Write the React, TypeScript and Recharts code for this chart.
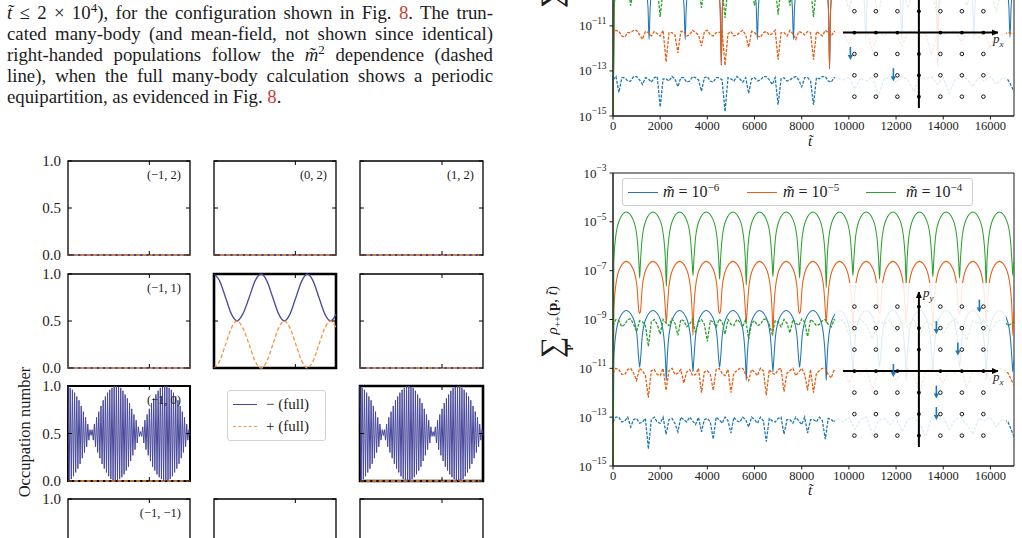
import React from 'react';
import { LineChart, Line, XAxis, YAxis, ReferenceArea, ReferenceLine, ScatterChart, Scatter } from 'recharts';

const SERIF = '"Liberation Serif", "DejaVu Serif", "Times New Roman", serif';
const INK = '#1b1b1b';
const MINUS_C = '#48489c';
const PLUS_C = '#f8953f';
const BLUE_R = '#1f77b4';
const ORANGE_R = '#e85d14';
const GREEN_R = '#2ca02c';
const RED_REF = '#cc3a33';

// ---------------- left grid (occupation numbers) ----------------
const gridXTicks = [74];
const gridYTicks = [0, 0.5, 1];
const gridYTickLabels = ['0.0', '0.5', '1.0'];
const panelLabels = ['(\u22121, 2)', '(0, 2)', '(1, 2)', '(\u22121, 1)', '', '', '(\u22121, 0)', '', '', '(\u22121, \u22121)', '', ''];
const panelKinds = ['empty', 'empty', 'empty', 'empty', 'cos', 'empty', 'beat', 'legend', 'beat', 'empty', 'empty', 'empty'];

const beatMinus = [
  1.00, 0.01, 0.98, 0.02, 0.96, 0.05, 0.93, 0.09, 0.89, 0.13,
  0.85, 0.18, 0.79, 0.24, 0.73, 0.30, 0.67, 0.36, 0.60, 0.43,
  0.54, 0.48, 0.54, 0.43, 0.60, 0.36, 0.67, 0.30, 0.73, 0.24,
  0.79, 0.18, 0.85, 0.13, 0.89, 0.09, 0.93, 0.05, 0.96, 0.02,
  0.98, 0.01, 1.00, 0.00, 1.00, 0.00, 0.99, 0.02, 0.98, 0.04,
  0.95, 0.07, 0.91, 0.11, 0.87, 0.15, 0.82, 0.21, 0.76, 0.27,
  0.70, 0.33, 0.64, 0.40, 0.57, 0.47, 0.52, 0.47, 0.57, 0.40,
  0.64, 0.33, 0.70, 0.27, 0.76, 0.21, 0.82, 0.15, 0.87, 0.11,
  0.91, 0.07, 0.95, 0.04, 0.98, 0.02, 0.99, 0.00, 1.00, 0.00,
  1.00, 0.01, 0.98, 0.02, 0.96, 0.05, 0.93, 0.09, 0.89, 0.13,
  0.85, 0.18, 0.79, 0.24, 0.73, 0.30, 0.67, 0.36, 0.60, 0.43,
  0.54, 0.48,
];
const cosT = [0, 5, 10.5, 16, 21, 26, 32, 37.5, 43, 48, 53.5, 59, 64, 69, 74.5, 80, 85, 90, 95.5, 101, 106, 111];
const cosMinus = [1.0, 0.93, 0.75, 0.57, 0.5, 0.57, 0.75, 0.93, 1.0, 0.93, 0.75, 0.57, 0.5, 0.57, 0.75, 0.93, 1.0, 0.93, 0.75, 0.57, 0.5, 0.57];
const cosPlus = [0, 0.07, 0.25, 0.43, 0.5, 0.43, 0.25, 0.07, 0, 0.07, 0.25, 0.43, 0.5, 0.43, 0.25, 0.07, 0, 0.07, 0.25, 0.43, 0.5, 0.43];
const flatT = [0, 111];
const flatZero = [0, 0];

const beatData = beatMinus.map((v, k) => ({ k, v }));
const cosMinusData = cosT.map((k, i) => ({ k, v: cosMinus[i] }));
const cosPlusData = cosT.map((k, i) => ({ k, v: cosPlus[i] }));
const flatZeroData = flatT.map((k, i) => ({ k, v: flatZero[i] }));

// ---------------- right plots ----------------
const xTicksR = [0, 2000, 4000, 6000, 8000, 10000, 12000, 14000, 16000];
const yTicksR = [1e-15, 1e-13, 1e-11, 1e-9, 1e-7, 1e-5, 1e-3];
const massExponents = ['6', '5', '4'];

// bottom plot: solid (full) curves, exponents log10
const archT = [
  0, 34, 113, 283, 565, 848, 1017, 1096,
  1130, 1164, 1243, 1413, 1695, 1978, 2147, 2226,
  2260, 2294, 2373, 2543, 2825, 3108, 3277, 3356,
  3390, 3424, 3503, 3673, 3955, 4238, 4407, 4486,
  4520, 4554, 4633, 4803, 5085, 5368, 5537, 5616,
  5650, 5684, 5763, 5933, 6215, 6498, 6667, 6746,
  6780, 6814, 6893, 7063, 7345, 7628, 7797, 7876,
  7910, 7944, 8023, 8193, 8475, 8758, 8927, 9006,
  9040, 9074, 9153, 9323, 9605, 9888, 10057, 10136,
  10170, 10204, 10283, 10453, 10735, 11018, 11187, 11266,
  11300, 11334, 11413, 11583, 11865, 12148, 12317, 12396,
  12430, 12464, 12543, 12713, 12995, 13278, 13447, 13526,
  13560, 13594, 13673, 13843, 14125, 14408, 14577, 14656,
  14690, 14724, 14803, 14973, 15255, 15538, 15707, 15786,
  15820, 15854, 15933, 16103, 16385, 16668, 16837, 16916,
  16950, 16984,
];
const archGreen = [
  -16, -6.65, -5.62, -4.9, -4.6, -4.9, -5.62, -6.65,
  -7.3, -6.65, -5.62, -4.9, -4.6, -4.9, -5.62, -6.65,
  -7.65, -6.65, -5.62, -4.9, -4.6, -4.9, -5.62, -6.65,
  -7.2, -6.65, -5.62, -4.9, -4.6, -4.9, -5.62, -6.65,
  -7.35, -6.65, -5.62, -4.9, -4.6, -4.9, -5.62, -6.65,
  -7.6, -6.65, -5.62, -4.9, -4.6, -4.9, -5.62, -6.65,
  -7.25, -6.65, -5.62, -4.9, -4.6, -4.9, -5.62, -6.65,
  -7.3, -6.65, -5.62, -4.9, -4.6, -4.9, -5.62, -6.65,
  -7.7, -6.65, -5.62, -4.9, -4.6, -4.9, -5.62, -6.65,
  -7.2, -6.65, -5.62, -4.9, -4.6, -4.9, -5.62, -6.65,
  -7.35, -6.65, -5.62, -4.9, -4.6, -4.9, -5.62, -6.65,
  -7.6, -6.65, -5.62, -4.9, -4.6, -4.9, -5.62, -6.65,
  -7.25, -6.65, -5.62, -4.9, -4.6, -4.9, -5.62, -6.65,
  -7.3, -6.65, -5.62, -4.9, -4.6, -4.9, -5.62, -6.65,
  -7.65, -6.65, -5.62, -4.9, -4.6, -4.9, -5.62, -6.65,
  -7.2, -6.65,
];
const archOrange = [
  -16, -8.67, -7.64, -6.92, -6.62, -6.92, -7.64, -8.67,
  -8.75, -8.67, -7.64, -6.92, -6.62, -6.92, -7.64, -8.67,
  -9.15, -8.67, -7.64, -6.92, -6.62, -6.92, -7.64, -8.67,
  -9.65, -8.67, -7.64, -6.92, -6.62, -6.92, -7.64, -8.67,
  -8.75, -8.67, -7.64, -6.92, -6.62, -6.92, -7.64, -8.67,
  -9.15, -8.67, -7.64, -6.92, -6.62, -6.92, -7.64, -8.67,
  -9.65, -8.67, -7.64, -6.92, -6.62, -6.92, -7.64, -8.67,
  -8.75, -8.67, -7.64, -6.92, -6.62, -6.92, -7.64, -8.67,
  -9.15, -8.67, -7.64, -6.92, -6.62, -6.92, -7.64, -8.67,
  -9.65, -8.67, -7.64, -6.92, -6.62, -6.92, -7.64, -8.67,
  -8.75, -8.67, -7.64, -6.92, -6.62, -6.92, -7.64, -8.67,
  -9.15, -8.67, -7.64, -6.92, -6.62, -6.92, -7.64, -8.67,
  -9.65, -8.67, -7.64, -6.92, -6.62, -6.92, -7.64, -8.67,
  -8.75, -8.67, -7.64, -6.92, -6.62, -6.92, -7.64, -8.67,
  -9.15, -8.67, -7.64, -6.92, -6.62, -6.92, -7.64, -8.67,
  -9.65, -8.67,
];
const archBlue = [
  -16, -10.68, -9.65, -8.93, -8.63, -8.93, -9.65, -10.68,
  -10.95, -10.68, -9.65, -8.93, -8.63, -8.93, -9.65, -10.68,
  -11.5, -10.68, -9.65, -8.93, -8.63, -8.93, -9.65, -10.68,
  -11.15, -10.68, -9.65, -8.93, -8.63, -8.93, -9.65, -10.68,
  -10.95, -10.68, -9.65, -8.93, -8.63, -8.93, -9.65, -10.68,
  -11.5, -10.68, -9.65, -8.93, -8.63, -8.93, -9.65, -10.68,
  -11.15, -10.68, -9.65, -8.93, -8.63, -8.93, -9.65, -10.68,
  -10.95, -10.68, -9.65, -8.93, -8.63, -8.93, -9.65, -10.68,
  -11.5, -10.68, -9.65, -8.93, -8.63, -8.93, -9.65, -10.68,
  -11.15, -10.68, -9.65, -8.93, -8.63, -8.93, -9.65, -10.68,
  -10.95, -10.68, -9.65, -8.93, -8.63, -8.93, -9.65, -10.68,
  -11.5, -10.68, -9.65, -8.93, -8.63, -8.93, -9.65, -10.68,
  -11.15, -10.68, -9.65, -8.93, -8.63, -8.93, -9.65, -10.68,
  -10.95, -10.68, -9.65, -8.93, -8.63, -8.93, -9.65, -10.68,
  -11.5, -10.68, -9.65, -8.93, -8.63, -8.93, -9.65, -10.68,
  -11.15, -10.68,
];

// noisy (truncated) curves: dense samples up to 9500, coarser under the inset
const tNoise = [
  0, 125, 250, 375, 500, 625, 750, 875, 1000, 1125, 1250, 1375, 1500, 1625, 1750, 1875,
  2000, 2125, 2250, 2375, 2500, 2625, 2750, 2875, 3000, 3125, 3250, 3375, 3500, 3625, 3750, 3875,
  4000, 4125, 4250, 4375, 4500, 4625, 4750, 4875, 5000, 5125, 5250, 5375, 5500, 5625, 5750, 5875,
  6000, 6125, 6250, 6375, 6500, 6625, 6750, 6875, 7000, 7125, 7250, 7375, 7500, 7625, 7750, 7875,
  8000, 8125, 8250, 8375, 8500, 8625, 8750, 8875, 9000, 9125, 9250, 9375, 9500,
  9750, 10000, 10250, 10500, 10750, 11000, 11250, 11500, 11750, 12000,
  12250, 12500, 12750, 13000, 13250, 13500, 13750, 14000, 14250, 14500,
  14750, 15000, 15250, 15500, 15750, 16000, 16250, 16500, 16750, 17000,
];
const greenDashBottom = [
  -9.25, -9.0, -9.05, -9.3, -9.2, -9.0, -8.98, -9.2, -9.5, -9.05, -9.1, -9.25, -10.1, -9.1, -9.0, -9.2,
  -9.6, -9.0, -9.15, -9.25, -8.97, -9.15, -9.65, -9.0, -9.05, -9.3, -9.2, -8.98, -9.55, -9.1, -9.0, -9.2,
  -9.9, -9.05, -9.1, -9.3, -8.98, -9.1, -9.6, -9.0, -9.2, -9.25, -9.0, -9.1, -9.3, -9.0, -9.8, -9.15,
  -9.05, -9.25, -9.2, -9.0, -8.97, -9.2, -9.6, -9.05, -9.1, -9.3, -9.0, -9.15, -9.55, -9.0, -9.15, -9.25,
  -8.98, -9.1, -9.7, -9.0, -9.1, -9.25, -9.2, -9.05, -9.0, -9.2, -9.3, -9.0, -9.1,
  -9.0, -9.6, -9.15, -8.98, -9.25, -9.8, -9.05, -9.2, -9.0, -9.55,
  -9.1, -9.3, -8.97, -9.7, -9.05, -9.2, -9.0, -9.6, -9.15, -8.98,
  -9.3, -9.85, -9.05, -9.2, -9.0, -9.5, -9.1, -9.0, -9.25, -9.1,
];
const orangeDashBottom = [
  -11.2, -11.0, -11.05, -11.25, -11.25, -11.05, -11.0, -11.2, -11.5, -11.0, -11.1, -11.3, -12.2, -11.1, -11.05, -11.25,
  -11.3, -11.0, -11.9, -11.1, -11.0, -11.25, -11.2, -11.05, -11.6, -11.15, -11.05, -11.3, -11.25, -11.0, -12.0, -11.15,
  -11.1, -11.25, -11.9, -11.05, -11.0, -11.2, -11.3, -11.05, -12.0, -11.2, -11.1, -11.0, -11.0, -11.25, -11.5, -11.05,
  -11.15, -11.3, -11.0, -11.1, -12.1, -11.05, -11.2, -11.25, -11.05, -11.0, -11.95, -11.2, -11.1, -11.0, -11.3, -11.15,
  -11.0, -11.25, -11.9, -11.05, -12.0, -11.2, -11.1, -11.0, -11.0, -11.25, -11.4, -11.05, -11.15,
  -11.0, -11.6, -11.1, -11.25, -11.0, -11.9, -11.1, -11.2, -11.0, -11.5,
  -11.15, -11.0, -11.3, -12.0, -11.1, -11.0, -11.25, -11.6, -11.05, -11.2,
  -11.0, -11.8, -11.1, -11.25, -11.0, -11.5, -11.1, -11.0, -11.2, -11.7,
];
const blueDashBottom = [
  -13.2, -13.0, -13.0, -13.2, -13.15, -13.0, -13.4, -13.1, -13.05, -13.25, -13.2, -13.05, -14.3, -13.1, -13.0, -13.2,
  -13.25, -13.0, -13.7, -13.1, -13.05, -13.25, -13.6, -13.0, -13.1, -13.2, -13.0, -13.15, -13.3, -13.0, -13.6, -13.1,
  -13.05, -13.2, -13.9, -13.0, -13.1, -13.25, -13.0, -13.15, -13.65, -13.0, -13.15, -13.2, -13.0, -13.1, -13.4, -13.0,
  -13.1, -13.25, -13.0, -13.15, -14.0, -13.05, -13.15, -13.2, -13.05, -13.0, -13.7, -13.1, -13.1, -13.25, -13.0, -13.15,
  -13.3, -13.0, -13.65, -13.1, -13.1, -13.2, -13.0, -13.15, -13.9, -13.05, -13.1, -13.2, -13.05,
  -13.2, -13.0, -13.5, -13.1, -13.0, -13.7, -13.15, -13.05, -13.3, -13.0,
  -13.6, -13.1, -13.0, -13.25, -13.8, -13.05, -13.15, -13.0, -13.5, -13.1,
  -13.0, -13.3, -13.7, -13.05, -13.15, -13.0, -13.4, -13.1, -13.2, -13.8,
];
const greenDashTop = [
  -9.3, -9.2, -9.15, -9.35, -9.4, -9.2, -10.1, -9.25, -9.2, -9.4, -9.35, -9.2, -9.1, -9.3, -9.5, -9.2,
  -10.6, -9.3, -9.2, -9.35, -9.3, -9.15, -9.15, -9.4, -9.45, -9.2, -9.2, -9.3, -9.3, -9.2, -10.2, -9.3,
  -9.15, -9.25, -9.4, -9.2, -9.25, -9.35, -10.65, -9.2, -9.2, -9.3, -9.35, -9.15, -9.1, -9.3, -9.4, -9.2,
  -10.1, -9.3, -9.25, -9.2, -9.15, -9.35, -9.4, -9.2, -10.5, -9.25, -9.2, -9.35, -10.1, -9.2, -9.3, -9.25,
  -9.15, -9.3, -9.4, -9.2, -10.6, -9.3, -9.2, -9.25, -9.3, -9.2, -9.15, -9.35, -9.4,
  -9.2, -10.3, -9.25, -9.4, -9.15, -9.3, -10.5, -9.2, -9.35, -9.1,
  -9.4, -10.2, -9.25, -9.15, -9.3, -9.45, -10.55, -9.2, -9.3, -9.15,
  -9.4, -10.1, -9.25, -9.3, -9.15, -9.4, -10.4, -9.2, -9.3, -9.2,
];
const orangeDashTop = [
  -11.4, -11.2, -11.25, -11.45, -11.5, -11.3, -11.3, -11.2, -11.2, -11.4, -11.6, -11.25, -11.3, -11.45, -11.25, -11.35,
  -11.45, -11.2, -12.6, -11.3, -11.3, -11.4, -12.2, -11.25, -11.25, -11.45, -11.4, -11.2, -11.3, -11.4, -11.9, -11.25,
  -11.2, -11.4, -11.45, -11.3, -11.3, -11.2, -12.75, -11.35, -11.25, -11.45, -11.4, -11.3, -11.2, -11.4, -11.95, -11.25,
  -11.3, -11.45, -11.5, -11.3, -11.25, -11.4, -11.35, -11.2, -12.5, -11.3, -11.3, -11.45, -11.2, -11.35, -11.6, -11.25,
  -11.3, -11.4, -11.25, -11.3, -12.5, -11.25, -11.35, -11.45, -11.2, -11.3, -11.45, -11.25, -11.3,
  -11.25, -11.8, -11.3, -11.4, -11.2, -12.1, -11.3, -11.45, -11.25, -11.35,
  -11.9, -11.3, -11.2, -11.5, -11.3, -12.3, -11.25, -11.4, -11.3, -11.2,
  -11.7, -11.35, -11.25, -11.5, -11.3, -12.0, -11.25, -11.4, -11.3, -11.35,
];
const blueDashTop = [
  -13.4, -13.25, -13.95, -13.3, -13.3, -13.45, -13.45, -13.25, -13.25, -13.4, -13.6, -13.3, -13.35, -13.5, -13.3, -13.25,
  -14.6, -13.35, -13.35, -13.45, -13.25, -13.35, -13.7, -13.3, -13.3, -13.5, -13.45, -13.25, -13.3, -13.4, -13.9, -13.3,
  -13.25, -13.45, -13.5, -13.3, -13.3, -13.4, -14.8, -13.3, -13.35, -13.45, -13.25, -13.35, -13.5, -13.3, -14.0, -13.35,
  -13.3, -13.45, -13.4, -13.25, -13.25, -13.4, -13.6, -13.3, -14.5, -13.35, -13.3, -13.45, -13.4, -13.3, -13.25, -13.4,
  -13.7, -13.3, -13.3, -13.45, -14.5, -13.3, -13.35, -13.25, -13.25, -13.45, -13.5, -13.3, -13.3,
  -13.4, -13.25, -13.8, -13.3, -13.45, -13.25, -14.1, -13.35, -13.3, -13.5,
  -13.25, -13.4, -13.9, -13.3, -13.35, -13.25, -13.6, -13.3, -14.0, -13.4,
  -13.25, -13.35, -13.7, -13.3, -13.45, -13.25, -13.6, -13.3, -13.4, -13.9,
];

// top plot solid curves (only their lower parts are visible)
const blueTopT = [
  0, 46, 180, 765, 1350, 1484, 1530, 1576, 1710, 2295, 2880, 3014,
  3060, 3106, 3240, 3825, 4410, 4544, 4590, 4636, 4770, 5355, 5940, 6074,
  6120, 6166, 6300, 6885, 7470, 7604, 7650, 7696, 7830, 8415, 9000, 9134,
  9180, 9226, 9360, 9945, 10530, 10664, 10710, 10756, 10890, 11475, 12060, 12194,
  12240, 12286, 12420, 13005, 13590, 13724, 13770, 13816, 13950, 14535, 15120, 15254,
  15300, 15346, 15480, 16065, 16650, 16784, 16830, 16876, 17000,
];
const blueTopV = [
  -16, -10.2, -9.0, -8.6, -9.0, -10.2, -11.6, -10.2, -9.0, -8.6, -9.0, -10.2,
  -11.6, -10.2, -9.0, -8.6, -9.0, -10.2, -12.75, -10.2, -9.0, -8.6, -9.0, -10.2,
  -11.6, -10.2, -9.0, -8.6, -9.0, -10.2, -11.6, -10.2, -9.0, -8.6, -9.0, -10.2,
  -12.9, -10.2, -9.0, -8.6, -9.0, -10.2, -11.6, -10.2, -9.0, -8.6, -9.0, -10.2,
  -11.6, -10.2, -9.0, -8.6, -9.0, -10.2, -12.8, -10.2, -9.0, -8.6, -9.0, -10.2,
  -11.6, -10.2, -9.0, -8.6, -9.0, -10.2, -11.5, -10.2, -9.0,
];
const orangeTopT = [0, 46, 200, 2300, 4390, 4544, 4590, 4636, 4790, 6885, 8980, 9134, 9180, 9226, 9380, 11475, 13570, 13724, 13770, 13816, 13970, 15400, 17000];
const orangeTopV = [-16, -10.3, -8.8, -8.0, -8.8, -10.3, -12.75, -10.3, -8.8, -8.0, -8.8, -10.3, -12.9, -10.3, -8.8, -8.0, -8.8, -10.3, -12.8, -10.3, -8.8, -8.0, -8.0];
const greenTopT = [0, 46, 300, 17000];
const greenTopV = [-16, -10.3, -8.0, -8.0];

const pairs = (ts: number[], es: number[]) => ts.map((t, i) => ({ t, v: Math.pow(10, es[i]) }));
const archRows = archT.map((t, i) => ({ t, g: Math.pow(10, archGreen[i]), o: Math.pow(10, archOrange[i]), b: Math.pow(10, archBlue[i]) }));

// inset lattice (momentum space)
const latticeCoords = [-3, -2, -1, 0, 1, 2, 3];
const insetDomain = [-3.53, 3.68];
const hollowPts: any[] = [];
const axisPts: any[] = [];
latticeCoords.forEach((i) => latticeCoords.forEach((j) => {
  if (i !== 0 && j !== 0) hollowPts.push({ x: i, y: j });
  else if (!(i === 0 && j === 0)) axisPts.push({ x: i, y: j });
}));
const axisHeads = [{ x: 3.68, y: 0, d: 'r' }, { x: 0, y: 3.68, d: 'u' }];
const spinsBottom = [{ x: 3, y: 3 }, { x: 1, y: 2 }, { x: 2, y: 1 }, { x: -1, y: 0 }, { x: 1, y: -1 }, { x: 1, y: -2 }];
const spinsTop = [{ x: -3, y: -1 }, { x: -1, y: -2 }];

// ---------------- components ----------------
function Panel({ x, y, w, h, kind, label, sw, yLabels }: any) {
  const m = 4;
  const lines: any[] = [];
  if (kind === 'cos') {
    lines.push({ data: cosMinusData, color: MINUS_C, curve: 'monotone', width: 1.3 });
    lines.push({ data: cosPlusData, color: PLUS_C, dash: '4 2.2', curve: 'monotone', width: 1.3 });
  } else if (kind === 'beat') {
    lines.push({ data: flatZeroData, color: PLUS_C, dash: '4 2.2', curve: 'linear', width: 1.3 });
    lines.push({ data: beatData, color: MINUS_C, curve: 'linear', width: 1 });
  } else {
    lines.push({ data: flatZeroData, color: MINUS_C, curve: 'linear', width: 1.3 });
    lines.push({ data: flatZeroData, color: PLUS_C, dash: '4 2.2', curve: 'linear', width: 1.3 });
  }
  return (
    <div style={{ position: 'absolute', left: x - m, top: y - m }}>
      <LineChart width={w + 2 * m} height={h + 2 * m} margin={{ top: m, right: m, bottom: m - 1, left: m - 1 }}>
        <XAxis dataKey="k" type="number" domain={[0, 111]} ticks={gridXTicks} height={1} axisLine={false} tickLine={false}
          tickSize={0} tickMargin={0} interval={0}
          tick={(p: any) => (
            <g>
              <line x1={p.x} x2={p.x} y1={p.y} y2={p.y - 4} stroke="#000" strokeWidth={1} />
              <line x1={p.x} x2={p.x} y1={p.y - h} y2={p.y - h + 4} stroke="#000" strokeWidth={1} />
            </g>
          )} />
        <YAxis type="number" domain={[0, 1]} ticks={gridYTicks} width={1} axisLine={false} tickLine={false}
          tickSize={0} tickMargin={0} interval={0}
          tick={(p: any) => (
            <g>
              <line x1={p.x} x2={p.x + 4} y1={p.y} y2={p.y} stroke="#000" strokeWidth={1} />
              <line x1={p.x + w} x2={p.x + w - 4} y1={p.y} y2={p.y} stroke="#000" strokeWidth={1} />
              {yLabels ? (
                <text x={p.x - 7} y={p.y} textAnchor="end" dominantBaseline="central" fontSize={15} fontFamily={SERIF} fill={INK}>
                  {gridYTickLabels[gridYTicks.indexOf(p.payload.value)]}
                </text>
              ) : null}
            </g>
          )} />
        <ReferenceArea x1={0} x2={111} y1={0} y2={1} fill="none" stroke="none" ifOverflow="visible"
          label={label ? { value: label, position: 'insideTopRight', offset: 9, fontSize: 12.5, fontFamily: SERIF, fill: INK } : undefined} />
        {lines.map((s, i) => (
          <Line key={i} data={s.data} dataKey="v" type={s.curve} stroke={s.color} strokeWidth={s.width}
            strokeDasharray={s.dash} dot={false} activeDot={false} isAnimationActive={false} />
        ))}
        <ReferenceArea x1={0} x2={111} y1={0} y2={1} fill="none" stroke="#000" strokeWidth={sw} ifOverflow="visible" />
      </LineChart>
    </div>
  );
}

const LogTick = (p: any) => {
  const e = Math.round(Math.log10(p.payload.value));
  return (
    <text x={p.x} y={p.y} textAnchor="end" dominantBaseline="central" fontFamily={SERIF} fontSize={13} fill={INK}>
      10<tspan fontSize={9.5} dy={-5}>{'\u2212' + Math.abs(e)}</tspan>
    </text>
  );
};

function RightPlot({ top, yMax, arch, solid, dashed }: any) {
  return (
    <div style={{ position: 'absolute', left: 533, top }}>
      <LineChart width={486} height={338} margin={{ top: 5, right: 5, bottom: 0, left: 0 }} data={arch || undefined}>
        <XAxis dataKey="t" type="number" domain={[0, 17000]} ticks={xTicksR} interval={0} height={40} tickSize={3.5}
          tickMargin={2} stroke={INK} tick={{ fontSize: 12.5, fontFamily: SERIF, fill: INK }} />
        <YAxis type="number" scale="log" domain={[1e-15, yMax]} allowDataOverflow ticks={yTicksR} interval={0} width={80}
          tickSize={3.5} tickMargin={3} stroke={INK} tick={LogTick} />
        {solid.map((s: any, i: number) => (
          <Line key={'s' + i} data={s.data} dataKey={s.key} type="monotone" stroke={s.color} strokeWidth={1.05}
            dot={false} activeDot={false} isAnimationActive={false} />
        ))}
        {dashed.map((s: any, i: number) => (
          <Line key={'d' + i} data={s.data} dataKey="v" type="linear" stroke={s.color} strokeWidth={1.3}
            strokeDasharray="3 1.4" dot={false} activeDot={false} isAnimationActive={false} />
        ))}
        <ReferenceArea x1={0} x2={17000} y1={1e-15} y2={yMax} fill="none" stroke={INK} strokeWidth={1} ifOverflow="visible" />
      </LineChart>
    </div>
  );
}

const HollowDot = (p: any) => <circle cx={p.cx} cy={p.cy} r={1.8} fill="#fff" stroke="#000" strokeWidth={0.9} />;
const FilledDot = (p: any) => <circle cx={p.cx} cy={p.cy} r={1.9} fill="#000" />;
const AxisHead = (p: any) =>
  p.payload.d === 'r'
    ? <polygon points={`${p.cx + 1},${p.cy} ${p.cx - 6},${p.cy - 3} ${p.cx - 6},${p.cy + 3}`} fill="#000" />
    : <polygon points={`${p.cx},${p.cy - 1} ${p.cx - 3},${p.cy + 6} ${p.cx + 3},${p.cy + 6}`} fill="#000" />;
const SpinArrow = (p: any) => {
  const x = p.cx - 4;
  return (
    <g>
      <line x1={x} x2={x} y1={p.cy - 7} y2={p.cy + 2} stroke={BLUE_R} strokeWidth={1.6} />
      <polygon points={`${x - 2.7},${p.cy + 1} ${x + 2.7},${p.cy + 1} ${x},${p.cy + 6}`} fill={BLUE_R} />
    </g>
  );
};

function Inset({ left, top, width, height, margin, spins }: any) {
  return (
    <div style={{ position: 'absolute', left, top, width, height, background: 'rgba(255,255,255,0.86)' }}>
      <ScatterChart width={width} height={height} margin={margin}>
        <XAxis type="number" dataKey="x" domain={insetDomain} allowDataOverflow hide />
        <YAxis type="number" dataKey="y" domain={insetDomain} allowDataOverflow hide />
        <ReferenceLine x={0} stroke="#000" strokeWidth={2} />
        <ReferenceLine y={0} stroke="#000" strokeWidth={2} />
        <Scatter data={hollowPts} shape={HollowDot} isAnimationActive={false} />
        <Scatter data={axisPts} shape={FilledDot} isAnimationActive={false} />
        <Scatter data={axisHeads} shape={AxisHead} isAnimationActive={false} />
        <Scatter data={spins} shape={SpinArrow} isAnimationActive={false} />
      </ScatterChart>
    </div>
  );
}

const YLabelRight = ({ cy }: any) => (
  <div style={{ position: 'absolute', left: 556, top: cy, transform: 'translate(-50%, -50%) rotate(-90deg)', whiteSpace: 'nowrap', fontFamily: SERIF, color: INK, display: 'flex', alignItems: 'center' }}>
    <div style={{ display: 'flex', flexDirection: 'column', alignItems: 'center', lineHeight: 1 }}>
      <span style={{ fontSize: 30, lineHeight: '24px' }}>{'\u2211'}</span>
      <b style={{ fontSize: 10, lineHeight: '10px' }}>p</b>
    </div>
    <span style={{ fontSize: 15, marginLeft: 2, marginTop: -6 }}>
      <i>{'\u03c1'}</i><sub style={{ fontSize: 10 }}>++</sub>(<b>p</b>, <i>{'t\u0303'}</i>)
    </span>
  </div>
);

const RightLegend = () => {
  const colors = [BLUE_R, ORANGE_R, GREEN_R];
  const lineX = [5, 124, 243];
  const textX = [40, 160, 283];
  return (
    <div style={{ position: 'absolute', left: 622, top: 178, width: 349, height: 26, border: '1px solid #cfcfcf', borderRadius: 3, background: 'rgba(255,255,255,0.85)', fontFamily: SERIF, color: INK }}>
      {massExponents.map((e, i) => (
        <React.Fragment key={i}>
          <div style={{ position: 'absolute', left: lineX[i], top: 13, width: 30, borderTop: `1.2px solid ${colors[i]}` }} />
          <div style={{ position: 'absolute', left: textX[i], top: 4, fontSize: 16, lineHeight: '18px', whiteSpace: 'nowrap' }}>
            <i>{'m\u0303'}</i> = 10<sup style={{ fontSize: 11, lineHeight: 0 }}>{'\u2212' + e}</sup>
          </div>
        </React.Fragment>
      ))}
    </div>
  );
};

const Ref8 = () => <span style={{ color: RED_REF }}>8</span>;

export default function App() {
  const colX = [68, 214, 360];
  const colW = [122, 122, 123];
  const rowY = [161, 274, 386, 499];
  const rowH = [94, 94, 95, 94];
  const lineStyle: any = { height: 21, lineHeight: '21px', textAlign: 'justify', textAlignLast: 'justify' };
  return (
    <div style={{ position: 'fixed', left: 0, top: 0, width: 1022, height: 538, overflow: 'hidden', background: '#fff', fontFamily: SERIF, color: INK }}>
      <style>{'svg{overflow:visible}'}</style>

      {/* paragraph */}
      <div style={{ position: 'absolute', left: 7, top: 2, width: 486, fontSize: 18.8 }}>
        <div style={lineStyle}><i>{'t\u0303'}</i> {'\u2264'} 2 {'\u00d7'} 10<sup style={{ fontSize: 13, lineHeight: 0 }}>4</sup>), for the configuration shown in Fig. <Ref8 />. The trun-</div>
        <div style={lineStyle}>cated many-body (and mean-field, not shown since identical)</div>
        <div style={lineStyle}>right-handed populations follow the <i>{'m\u0303'}</i><sup style={{ fontSize: 13, lineHeight: 0 }}>2</sup> dependence (dashed</div>
        <div style={lineStyle}>line), when the full many-body calculation shows a periodic</div>
        <div style={{ height: 21, lineHeight: '21px' }}>equipartition, as evidenced in Fig. <Ref8 />.</div>
      </div>

      {/* left grid */}
      {panelKinds.map((kind, idx) => {
        const r = Math.floor(idx / 3);
        const c = idx % 3;
        if (kind === 'legend') return null;
        const sw = kind === 'cos' || (kind === 'beat' && c === 2) ? 2.6 : kind === 'beat' ? 2.0 : 1.3;
        return <Panel key={idx} x={colX[c]} y={rowY[r]} w={colW[c]} h={rowH[r]} kind={kind} label={panelLabels[idx]} sw={sw} yLabels={c === 0} />;
      })}
      <div style={{ position: 'absolute', left: 25, top: 432, transform: 'translate(-50%, -50%) rotate(-90deg)', whiteSpace: 'nowrap', fontSize: 16.5 }}>Occupation number</div>
      <div style={{ position: 'absolute', left: 227, top: 390, width: 97, height: 49, border: '1px solid #d2d2d2', borderRadius: 3, background: '#fff', fontSize: 15 }}>
        <div style={{ position: 'absolute', left: 5, top: 13, width: 24, borderTop: `1.4px solid ${MINUS_C}` }} />
        <div style={{ position: 'absolute', left: 38, top: 4, lineHeight: '18px' }}>{'\u2212'} (full)</div>
        <div style={{ position: 'absolute', left: 5, top: 35, width: 24, borderTop: `1.4px dashed ${PLUS_C}` }} />
        <div style={{ position: 'absolute', left: 38, top: 26, lineHeight: '18px' }}>+ (full)</div>
      </div>

      {/* top-right plot (cut by page top) */}
      <RightPlot top={-182} yMax={1e-2}
        solid={[
          { data: pairs(blueTopT, blueTopV), key: 'v', color: BLUE_R },
          { data: pairs(orangeTopT, orangeTopV), key: 'v', color: ORANGE_R },
          { data: pairs(greenTopT, greenTopV), key: 'v', color: GREEN_R },
        ]}
        dashed={[
          { data: pairs(tNoise, greenDashTop), color: GREEN_R },
          { data: pairs(tNoise, orangeDashTop), color: ORANGE_R },
          { data: pairs(tNoise, blueDashTop), color: BLUE_R },
        ]} />
      <Inset left={835} top={-54} width={171} height={167} margin={{ top: 8, right: 8, bottom: 5, left: 8 }} spins={spinsTop} />
      <div style={{ position: 'absolute', left: 993, top: 32, fontSize: 13, fontStyle: 'italic', lineHeight: 1 }}>p<sub style={{ fontSize: 9 }}>x</sub></div>
      <YLabelRight cy={-28} />
      <div style={{ position: 'absolute', left: 808, top: 134, fontSize: 15, fontStyle: 'italic', lineHeight: 1 }}>{'t\u0303'}</div>

      {/* bottom-right plot */}
      <RightPlot top={168} yMax={1e-3} arch={archRows}
        solid={[
          { data: undefined, key: 'b', color: BLUE_R },
          { data: undefined, key: 'o', color: ORANGE_R },
          { data: undefined, key: 'g', color: GREEN_R },
        ]}
        dashed={[
          { data: pairs(tNoise, greenDashBottom), color: GREEN_R },
          { data: pairs(tNoise, orangeDashBottom), color: ORANGE_R },
          { data: pairs(tNoise, blueDashBottom), color: BLUE_R },
        ]} />
      <Inset left={835} top={283} width={171} height={179} margin={{ top: 9, right: 8, bottom: 15, left: 8 }} spins={spinsBottom} />
      <div style={{ position: 'absolute', left: 993, top: 370, fontSize: 13, fontStyle: 'italic', lineHeight: 1 }}>p<sub style={{ fontSize: 9 }}>x</sub></div>
      <div style={{ position: 'absolute', left: 923, top: 286, fontSize: 13, fontStyle: 'italic', lineHeight: 1 }}>p<sub style={{ fontSize: 9 }}>y</sub></div>
      <YLabelRight cy={322} />
      <div style={{ position: 'absolute', left: 808, top: 483, fontSize: 15, fontStyle: 'italic', lineHeight: 1 }}>{'t\u0303'}</div>
      <RightLegend />
    </div>
  );
}
